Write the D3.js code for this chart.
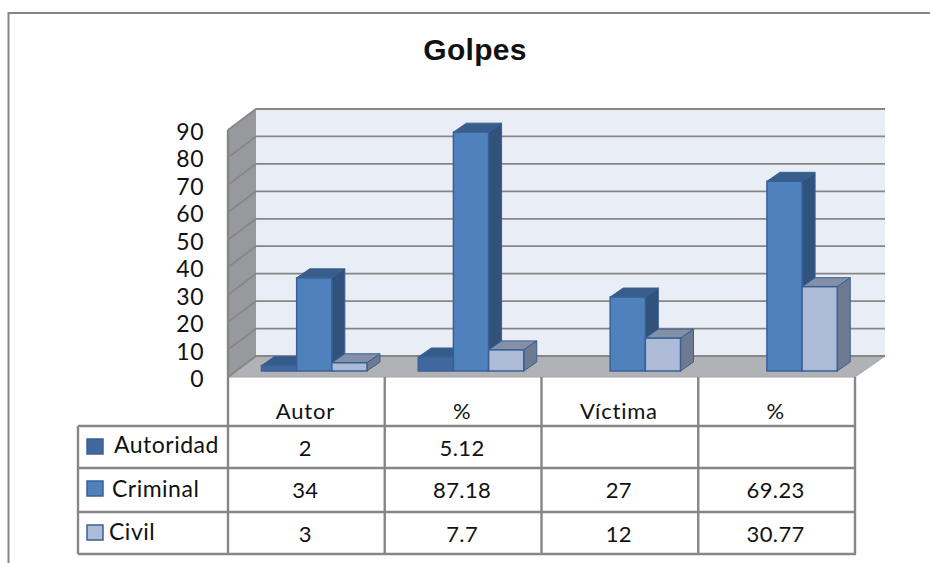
<!DOCTYPE html>
<html>
<head>
<meta charset="utf-8">
<style>
	html, body { margin: 0; padding: 0; background: #fff; overflow: hidden; }
	text { font-family: Lato, sans-serif; fill: #111; }
</style>
<script src="https://cdn.jsdelivr.net/npm/d3@7"></script>
</head>
<body>
<svg id="chart" width="930" height="563"></svg>
<script>
const categories = ['Autor', '%', 'Víctima', '%'],
	seriesNames = ['Autoridad', 'Criminal', 'Civil'],
	autoridad = [2, 5.12, null, null],
	criminal = [34, 87.18, 27, 69.23],
	civil = [3, 7.7, 12, 30.77],
	yTicks = [0, 10, 20, 30, 40, 50, 60, 70, 80, 90];

const series = [autoridad, criminal, civil];

const faceColors = [
	{ front: '#41689e', top: '#355b8a', side: '#30527c', stroke: '#3a6296' },
	{ front: '#4f81bd', top: '#385d8a', side: '#31527a', stroke: '#386096' },
	{ front: '#adbbd8', top: '#8490a8', side: '#6d7a90', stroke: '#386096' }
];

const GRID = '#868686',
	DEPTH_X = 13,
	DEPTH_Y = 9;

const svg = d3.select('#chart');

// three y scales: back wall, bar front plane, front edge of the side wall
const yBack = d3.scaleLinear().domain([0, 90]).range([356, 109]),
	yBar = d3.scaleLinear().domain([0, 90]).range([371, 124.4]),
	yFront = d3.scaleLinear().domain([0, 90]).range([377, 130]);

const x0 = d3.scaleBand().domain(d3.range(categories.length)).range([228, 855]),
	x1 = d3.scaleBand().domain(d3.range(series.length)).range([33.5, 139]);

const poly = pts => pts.map(p => p.join(',')).join(' ');

// outer frame, open on the right and at the bottom
svg.append('path')
	.attr('d', 'M8.5,563V13H930')
	.attr('fill', 'none')
	.attr('stroke', GRID)
	.attr('stroke-width', 2);

svg.append('text')
	.attr('x', 475)
	.attr('y', 60)
	.attr('text-anchor', 'middle')
	.style('font-family', '"Liberation Sans", sans-serif')
	.style('font-weight', 700)
	.style('font-size', '30px')
	.style('letter-spacing', '0.3px')
	.text('Golpes');

// walls and floor
svg.append('rect')
	.attr('x', 256)
	.attr('y', yBack(90))
	.attr('width', 629)
	.attr('height', yBack(0) - yBack(90))
	.attr('fill', '#e9edf5');

svg.append('polygon')
	.attr('points', poly([[228, yFront(90)], [256, yBack(90)], [256, yBack(0)], [228, yFront(0)]]))
	.attr('fill', '#97999d');

svg.append('polygon')
	.attr('points', poly([[228, yFront(0)], [256, yBack(0)], [885, yBack(0)], [855, yFront(0)]]))
	.attr('fill', '#b0b2b6')
	.attr('stroke', '#a2a4a8');

// gridlines, back wall then down the side wall
svg.selectAll('.grid')
	.data(yTicks)
	.join('path')
	.attr('class', 'grid')
	.attr('d', d => `M228,${yFront(d)}L256,${yBack(d)}H885`)
	.attr('fill', 'none')
	.attr('stroke', GRID)
	.attr('stroke-width', 1.8);

svg.append('line')
	.attr('x1', 228).attr('x2', 228)
	.attr('y1', yFront(90)).attr('y2', yFront(0))
	.attr('stroke', GRID)
	.attr('stroke-width', 2.4);

svg.selectAll('.tick-label')
	.data(yTicks)
	.join('text')
	.attr('class', 'tick-label')
	.attr('x', 204)
	.attr('y', d => yFront(d) + 10)
	.attr('text-anchor', 'end')
	.style('font-size', '23px')
	.style('letter-spacing', '0.5px')
	.text(d => d);

// bars, Criminal drawn after its neighbours like the original depth order
const barData = [];
series.forEach((values, s) => {
	values.forEach((v, c) => {
		if (v !== null) barData.push({ s, c, v });
	});
});

const bars = svg.selectAll('.bar')
	.data(barData)
	.join('g')
	.attr('class', 'bar');

bars.each(function (d) {
	const g = d3.select(this),
		col = faceColors[d.s],
		left = x0(d.c) + x1(d.s),
		w = x1.bandwidth(),
		top = yBar(d.v),
		bottom = yBar(0);

	g.append('polygon')
		.attr('points', poly([[left, top], [left + DEPTH_X, top - DEPTH_Y], [left + w + DEPTH_X, top - DEPTH_Y], [left + w, top]]))
		.attr('fill', col.top)
		.attr('stroke', col.stroke);
	g.append('polygon')
		.attr('points', poly([[left + w, top], [left + w + DEPTH_X, top - DEPTH_Y], [left + w + DEPTH_X, bottom - DEPTH_Y], [left + w, bottom]]))
		.attr('fill', col.side)
		.attr('stroke', col.stroke);
	g.append('rect')
		.attr('x', left)
		.attr('y', top)
		.attr('width', w)
		.attr('height', bottom - top)
		.attr('fill', col.front)
		.attr('stroke', col.stroke)
		.attr('stroke-width', 1.5);
});

// data table under the plot
const rowLines = [377, 426, 468, 512, 554],
	legendLeft = 78;

const table = svg.append('g')
	.attr('fill', 'none')
	.attr('stroke', GRID)
	.attr('stroke-width', 2.4);

d3.range(categories.length + 1).forEach(i => {
	const x = i < categories.length ? x0(i) : x0.range()[1];
	table.append('line')
		.attr('x1', x).attr('x2', x)
		.attr('y1', rowLines[0]).attr('y2', rowLines[4]);
});
rowLines.slice(1).forEach(y => {
	table.append('line')
		.attr('x1', legendLeft).attr('x2', 856)
		.attr('y1', y).attr('y2', y);
});
table.append('line')
	.attr('x1', legendLeft).attr('x2', legendLeft)
	.attr('y1', rowLines[1]).attr('y2', rowLines[4]);

svg.selectAll('.cat-label')
	.data(categories)
	.join('text')
	.attr('class', 'cat-label')
	.attr('x', (d, i) => x0(i) + x0.bandwidth() / 2 - 1)
	.attr('y', 419)
	.attr('text-anchor', 'middle')
	.style('font-size', '22px')
	.style('letter-spacing', '0.8px')
	.text(d => d);

const legendTextX = [114, 112, 109],
	legendTextY = [453, 497, 540],
	rowTextY = [456, 498, 542];

seriesNames.forEach((name, s) => {
	svg.append('rect')
		.attr('x', 87)
		.attr('y', rowLines[s + 1] + 13)
		.attr('width', 16)
		.attr('height', 15)
		.attr('fill', faceColors[s].front)
		.attr('stroke', faceColors[s].stroke)
		.attr('stroke-width', 1.5);

	svg.append('text')
		.attr('x', legendTextX[s])
		.attr('y', legendTextY[s])
		.style('font-size', '23px')
		.style('letter-spacing', '0.5px')
		.text(name);

	series[s].forEach((v, c) => {
		if (v === null) return;
		svg.append('text')
			.attr('x', x0(c) + x0.bandwidth() / 2 - 1)
			.attr('y', rowTextY[s])
			.attr('text-anchor', 'middle')
			.style('font-size', '22px')
			.style('letter-spacing', '0.4px')
			.text(v);
	});
});
</script>
</body>
</html>
